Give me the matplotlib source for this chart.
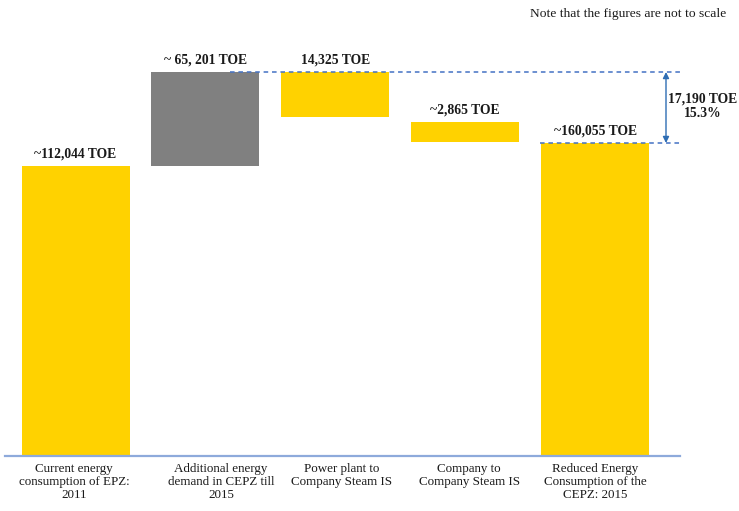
import matplotlib
matplotlib.use("Agg")
import matplotlib.pyplot as plt

# ---- data (drawn "not to scale": heights are display units) ----
categories = [
    "Current energy\nconsumption of EPZ:\n2011",
    "Additional energy\ndemand in CEPZ till\n2015",
    "Power plant to\nCompany Steam IS",
    "Company to\nCompany Steam IS",
    "Reduced Energy\nConsumption of the\nCEPZ: 2015",
]
bar_bottom = [0, 290, 339, 314, 0]
bar_top = [290, 384, 384, 334, 313]
value_labels = ["~112,044 TOE", "~ 65, 201 TOE", "14,325 TOE", "~2,865 TOE", "~160,055 TOE"]
bar_colors = ["#FFD200", "#808080", "#FFD200", "#FFD200", "#FFD200"]
saving_label = "17,190 TOE\n15.3%"
note = "Note that the figures are not to scale"

serif = ["Liberation Serif", "DejaVu Serif"]

fig = plt.figure(figsize=(7.39, 5.11), dpi=100)
W, H = 739, 511
x0, step = 75.5, 129.9
ax = fig.add_axes([5 / W, 55 / H, 675 / W, 456 / H])
ax.set_xlim((5 - x0) / step, (680 - x0) / step)
ax.set_ylim(0, 456)

def px(p):
    return (p - x0) / step

xs = list(range(len(categories)))
heights = [t - b for t, b in zip(bar_top, bar_bottom)]
ax.bar(xs, heights, bottom=bar_bottom, width=108 / step, color=bar_colors, zorder=2)

for x, t, lab in zip(xs, bar_top, value_labels):
    ax.text(x, t + 12, lab, ha="center", va="center", fontsize=9.8,
            fontweight="bold", family=serif, color="#1a1a1a")

label_shift = [-0.01, 0.12, 0.05, 0.03, 0]
for x, c, s in zip(xs, categories, label_shift):
    ax.text(x + s, -7, c, ha="center", va="top", fontsize=9.4, family=serif,
            linespacing=1.12, color="#1a1a1a", clip_on=False)

# dashed reference lines and the saving arrow
ax.plot([px(230), px(680)], [bar_top[1], bar_top[1]], ls=(0, (3, 2.5)),
        color="#4472C4", lw=1.1, zorder=3, clip_on=False)
ax.plot([px(540), px(680)], [bar_top[4], bar_top[4]], ls=(0, (3, 2.5)),
        color="#4472C4", lw=1.1, zorder=3, clip_on=False)
ax.annotate("", xy=(px(666), bar_top[4]), xytext=(px(666), bar_top[1]),
            arrowprops=dict(arrowstyle="<|-|>", color="#2E6DB4", lw=1.0,
                            mutation_scale=9, shrinkA=0, shrinkB=0))
ax.text(px(702.5), (bar_top[1] + bar_top[4]) / 2 + 1, saving_label,
        ha="center", va="center", fontsize=9.8, fontweight="bold",
        family=serif, color="#1a1a1a", linespacing=1.15)

fig.text(726 / W, 1 - 14 / H, note, ha="right", va="center", fontsize=9.7,
         family=serif, color="#1a1a1a")

for s in ["top", "right", "left"]:
    ax.spines[s].set_visible(False)
ax.spines["bottom"].set_color("#8EAADB")
ax.spines["bottom"].set_linewidth(1.6)
ax.set_xticks([])
ax.set_yticks([])
ax.patch.set_alpha(0)

fig.savefig("out.png", dpi=100)
